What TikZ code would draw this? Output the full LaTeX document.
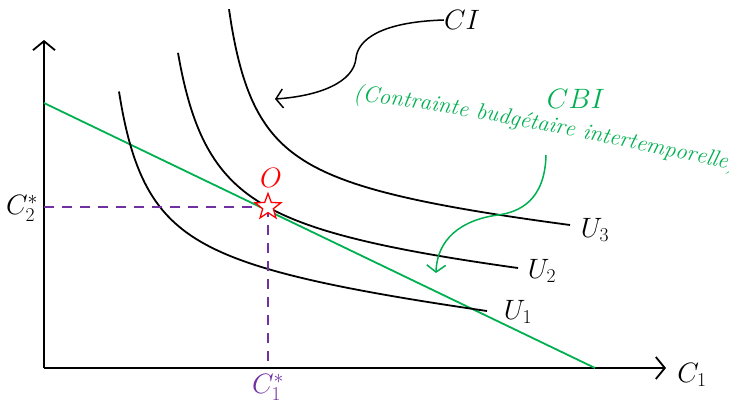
\RequirePackage{fix-cm}
\documentclass[tikz,border=0pt]{standalone}
\usetikzlibrary{arrows.meta,shapes.geometric,decorations.text}
\definecolor{cbigreen}{RGB}{0,176,80}
\definecolor{dpurple}{RGB}{112,48,160}
\begin{document}
\begin{tikzpicture}[x=1pt,y=-1pt,
  curve/.style={line width=1.8pt, black, line join=round},
  axisline/.style={line width=1.8pt, black, -{Straight Barb[length=9pt,width=22pt,line width=1.8pt]}},
  budget/.style={line width=1.8pt, cbigreen},
  dashline/.style={line width=1.8pt, dpurple, dash pattern=on 10pt off 8pt},
  lbl/.style={font=\fontsize{28}{32}\selectfont, inner sep=0pt},
  pointer/.style={line width=1.5pt, -{Straight Barb[length=7pt,width=19pt,line width=1.5pt]}}
]
\useasboundingbox (0,0) rectangle (729,409);
% axes
\coordinate (org) at (44,368);
\coordinate (ytip) at (44,40);
\coordinate (xtip) at (666,368);
\draw[axisline] (org) -- (ytip);
\draw[axisline] (org) -- (xtip);
% budget line
\coordinate (b0) at (44,103);
\coordinate (b1) at (595,368);
\draw[budget] (b0) -- (b1);
% indifference curves
\draw[curve] plot[domain=119:487, samples=160, smooth] (\x, {273.75+0.1076*\x-6046/(\x-88)});
\draw[curve] plot[domain=178:518, samples=160, smooth] (\x, {242.37+0.0874*\x-7383/(\x-142)});
\draw[curve] plot[domain=229:570, samples=160, smooth] (\x, {188.85+0.091*\x-5815/(\x-200)});
% optimum
\coordinate (c2) at (44,207);
\coordinate (c1) at (268,368);
\coordinate (opt) at (268,207);
\draw[dashline] (c2) -- (opt);
\draw[dashline] (opt) -- (c1);
\node[star, star points=5, star point ratio=2.4, minimum size=27pt, draw=red, fill=white, line width=1.3pt, inner sep=0pt] (star) at (268,207) {};
\node[lbl, text=red] (olab) at (271,178) {$O$};
% labels
\node[lbl] (c2lab) at (22,208) {$C_2^*$};
\node[lbl, text=dpurple] (c1lab) at (268,387) {$C_1^*$};
\node[lbl] (x1lab) at (692,375) {$C_1$};
\node[lbl] (u1lab) at (518,312) {$U_1$};
\node[lbl] (u2lab) at (542,271) {$U_2$};
\node[lbl] (u3lab) at (595,230) {$U_3$};
\node[lbl] (cilab) at (462,20) {$CI$};
\node[lbl, text=cbigreen] (cbilab) at (576,99) {$CBI$};
% CI pointer
\coordinate (citip) at (275,99);
\draw[pointer] (cilab.west) .. controls (380,22) and (358,40) .. (356,58)
  .. controls (354,82) and (320,96) .. (citip);
% CBI text along arc
\path[decorate, decoration={text along path, raise=0pt,
  text={|\fontsize{23}{27}\selectfont\itshape\color{cbigreen}|(Contrainte budgétaire intertemporelle)}}]
  (353,101) .. controls (450,109) and (620,146) .. (780,180);
% CBI pointer
\coordinate (cbistart) at (546,155);
\coordinate (cbitip) at (436,273);
\draw[pointer, cbigreen] (cbistart) .. controls (545,200) and (520,212) .. (498,215)
  .. controls (460,220) and (437,240) .. (cbitip);
\end{tikzpicture}
\end{document}
